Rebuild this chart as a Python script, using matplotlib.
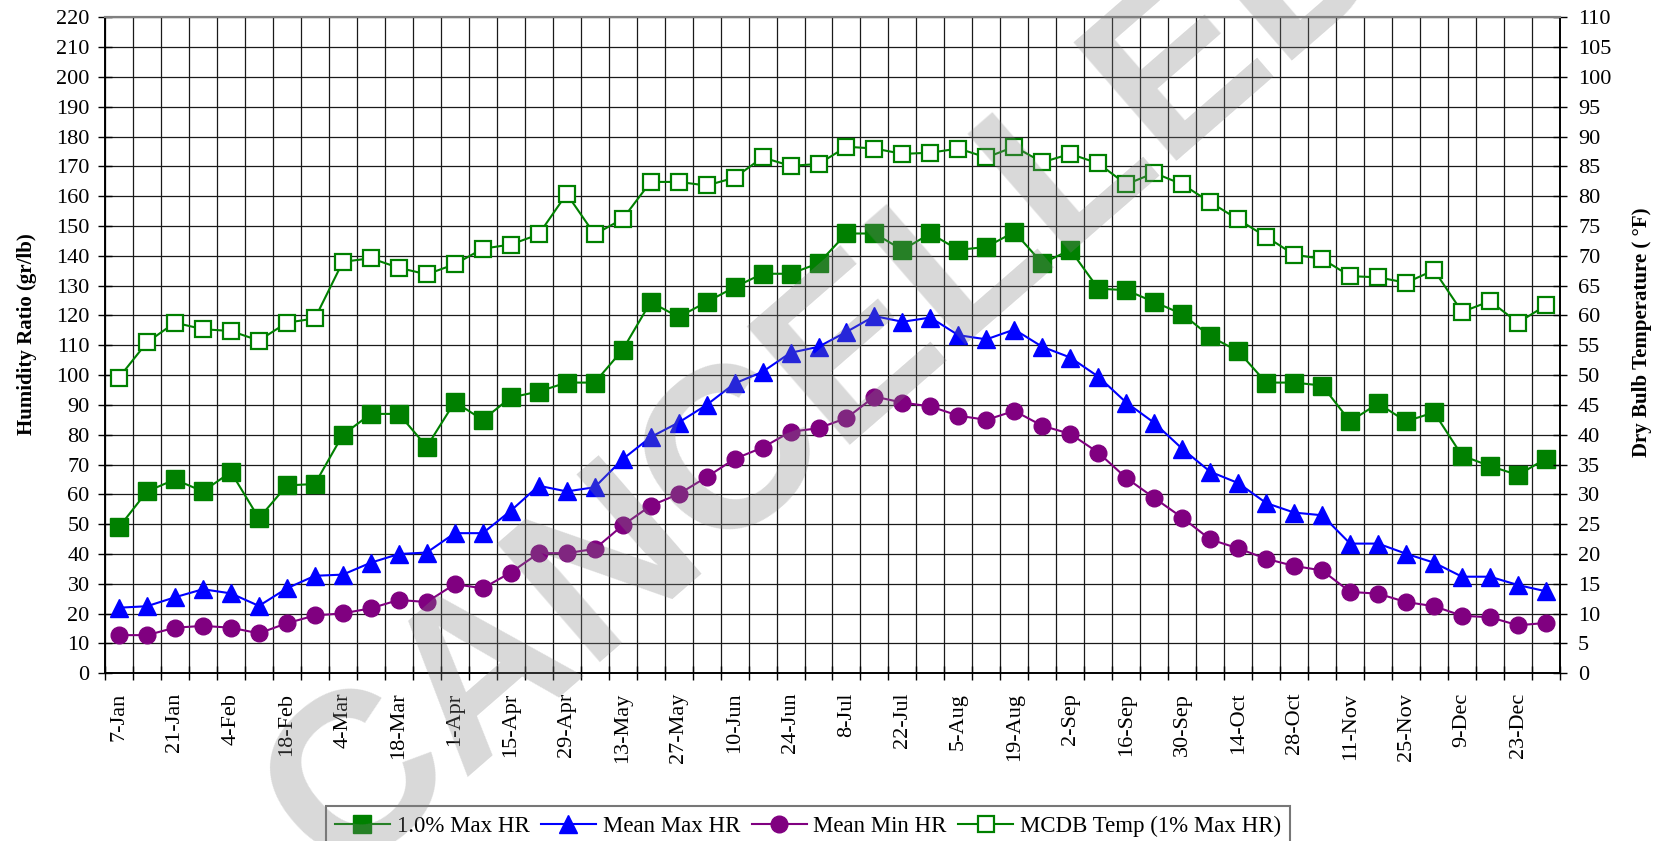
import matplotlib
matplotlib.use('Agg')
import matplotlib.pyplot as plt
import numpy as np

plt.rcParams['font.family'] = ['Liberation Serif', 'DejaVu Serif']

# weekly values, 7-Jan .. 30-Dec (52 weeks)
hr_1pct = [49, 61, 65, 61, 67.5, 52, 63, 63.5, 80, 87,
           87, 76, 91, 85, 92.5, 94.5, 97.5, 97.5, 108.5, 124.5,
           119.5, 124.5, 129.5, 134, 134, 137.5, 147.5, 147.5, 142, 147.5,
           142, 143, 148, 137.5, 142, 129, 128.5, 124.5, 120.5, 113,
           108, 97.5, 97.5, 96.5, 84.5, 90.5, 84.5, 87.5, 73, 69.5,
           66.5, 72]
mean_max_hr = [22, 22.5, 25.5, 28.2, 26.8, 22.6, 28.5, 32.7, 33.1, 37.1,
               40, 40.5, 47, 47, 54.5, 62.9, 61, 62.4, 71.8, 79.2,
               84.1, 90, 97.2, 101.1, 107.5, 109.5, 114.5, 119.8, 117.9, 119.3,
               113.4, 112, 115.3, 109.5, 105.9, 99.5, 90.8, 84, 75.3, 67.6,
               63.8, 57.1, 53.9, 53, 43.5, 43.5, 40.1, 37.1, 32.4, 32.4,
               29.6, 27.5]
mean_min_hr = [12.8, 12.8, 15.3, 15.9, 15.3, 13.4, 16.8, 19.4, 20.1, 21.8,
               24.6, 23.9, 29.9, 28.5, 33.8, 40.3, 40.3, 41.7, 49.6, 56.2,
               60.1, 65.8, 71.9, 75.7, 81, 82.2, 85.6, 92.8, 90.8, 89.5,
               86.4, 85, 88, 83, 80.3, 74, 65.5, 58.8, 52.2, 44.9,
               41.9, 38.4, 36, 34.5, 27.3, 26.7, 23.9, 22.5, 19.3, 18.8,
               16.1, 16.9]
mcdb_temp = [49.6, 55.5, 58.8, 57.7, 57.4, 55.8, 58.8, 59.5, 69, 69.6,
             68, 66.9, 68.6, 71.2, 71.9, 73.6, 80.4, 73.6, 76.2, 82.4,
             82.4, 81.8, 83.1, 86.5, 85.1, 85.4, 88.3, 88, 87.1, 87.3,
             88, 86.5, 88.3, 85.7, 87.1, 85.5, 82, 83.9, 82, 79,
             76.1, 73.2, 70.2, 69.5, 66.6, 66.4, 65.5, 67.6, 60.6, 62.4,
             58.8, 61.7]

week_labels = ['7-Jan', '21-Jan', '4-Feb', '18-Feb', '4-Mar', '18-Mar', '1-Apr',
               '15-Apr', '29-Apr', '13-May', '27-May', '10-Jun', '24-Jun', '8-Jul',
               '22-Jul', '5-Aug', '19-Aug', '2-Sep', '16-Sep', '30-Sep', '14-Oct',
               '28-Oct', '11-Nov', '25-Nov', '9-Dec', '23-Dec']

green = '#008000'
blue = '#0000ff'
purple = '#800080'

fig = plt.figure(figsize=(16.67, 8.41), dpi=100)
ax = fig.add_axes([0.063, 0.1994, 0.8728, 0.78])
ax2 = ax.twinx()

x = np.arange(len(hr_1pct))
l1, = ax.plot(x, hr_1pct, color=green, lw=1.5, marker='s', ms=13, label='1.0% Max HR')
l2, = ax.plot(x, mean_max_hr, color=blue, lw=1.5, marker='^', ms=13, label='Mean Max HR')
l3, = ax.plot(x, mean_min_hr, color=purple, lw=1.5, marker='o', ms=12, label='Mean Min HR')
l4, = ax2.plot(x, mcdb_temp, color=green, lw=1.5, marker='s', ms=12, mfc='white',
               mec=green, mew=1.6, label='MCDB Temp (1% Max HR)')

ax.set_xlim(-0.5, len(x) - 0.5)
ax.set_ylim(0, 220)
ax2.set_ylim(0, 110)
ax.set_yticks(range(0, 221, 10))
ax2.set_yticks(range(0, 111, 5))

ax.set_xticks(np.arange(-0.5, len(x), 1))
ax.set_xticklabels([])
ax.set_xticks(np.arange(0, len(x), 2), minor=True)
ax.set_xticklabels(week_labels, minor=True, rotation=90)
ax.tick_params(axis='x', which='major', direction='inout', length=10, width=1)
ax.tick_params(axis='x', which='minor', length=0, pad=14, labelsize=16)
ax.tick_params(axis='y', direction='inout', length=10, width=1, labelsize=16, pad=6)
ax2.tick_params(axis='y', direction='inout', length=10, width=1, labelsize=16, pad=8)

ax.grid(True, which='major', color='#1a1a1a', lw=0.9)

for a in (ax, ax2):
    a.spines['top'].set_color('#808080')
    a.spines['top'].set_linewidth(1.5)
    for s in ('left', 'right', 'bottom'):
        a.spines[s].set_linewidth(1.2)

fig.text(27 / 1667, 1 - 334 / 841, 'Humidity Ratio (gr/lb)', rotation=90,
         ha='center', va='center', fontsize=15, fontweight='bold')
fig.text(1642 / 1667, 1 - 332 / 841, 'Dry Bulb Temperature ( °F)', rotation=90,
         ha='center', va='center', fontsize=15, fontweight='bold')

leg = fig.legend([l1, l2, l3, l4], [h.get_label() for h in (l1, l2, l3, l4)],
                 loc='upper center', bbox_to_anchor=(0.4847, 0.0547), ncol=4,
                 frameon=True, fancybox=False, edgecolor='#555555', fontsize=16.5,
                 handlelength=2.4, handletextpad=0.3, columnspacing=0.5,
                 borderpad=0.4)
leg.get_frame().set_linewidth(1.5)

# watermark
fig.text(0.499, 0.555, 'CANCELLED', fontsize=165, family='Liberation Sans',
         fontweight='bold', rotation=41, rotation_mode='anchor', color='gray',
         alpha=0.3, ha='center', va='center', zorder=10)

fig.savefig('out.png', dpi=100)
